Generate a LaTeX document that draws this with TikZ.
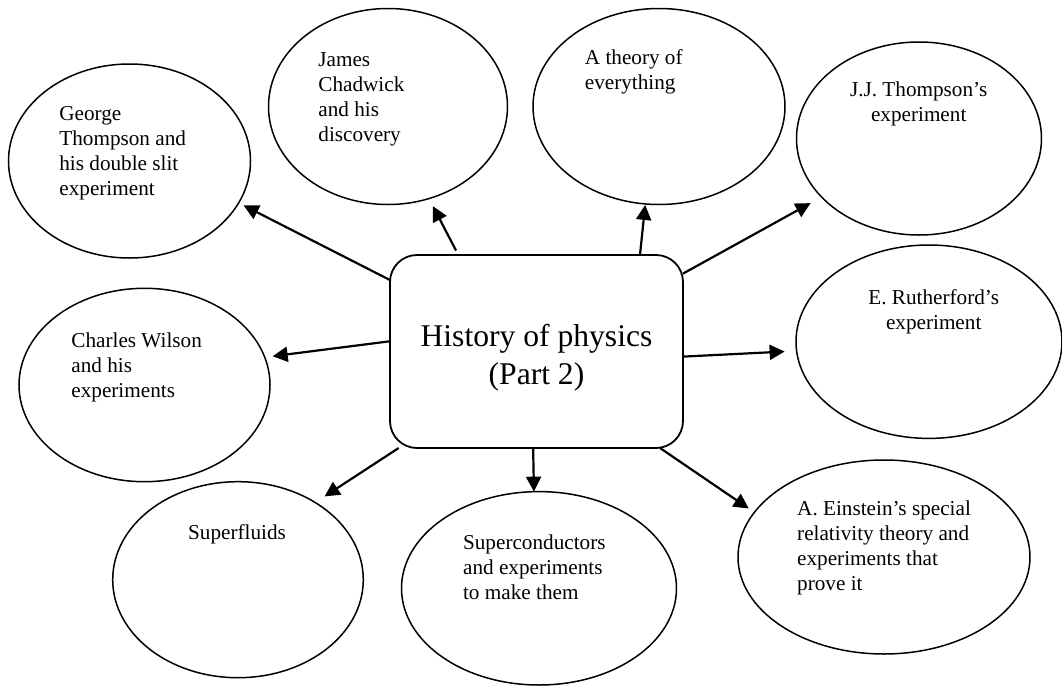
\documentclass[tikz,border=0pt]{standalone}
\usepackage{fontspec}
\setmainfont{Liberation Serif}
\usetikzlibrary{shapes.geometric, arrows.meta}
\tikzset{
  hub/.style={
    rectangle, rounded corners=13.5pt, draw, line width=0.9pt,
    minimum width=146.5pt, minimum height=96.5pt, inner sep=0pt, outer sep=0pt
  },
  hubtext/.style={
    font=\fontsize{15.8}{18.8}\selectfont, align=center, inner sep=0pt
  },
  bubble/.style 2 args={
    ellipse, draw, line width=0.75pt,
    minimum width=#1pt, minimum height=#2pt, inner sep=0pt, outer sep=0pt
  },
  note/.style={
    font=\fontsize{10.6}{12.5}\selectfont, align=left, inner sep=0pt, anchor=north west
  },
  notec/.style={
    font=\fontsize{10.6}{12.5}\selectfont, align=center, inner sep=0pt, anchor=north
  },
  link/.style={
    -{Triangle[length=7.5pt,width=7.5pt]}, line width=1.1pt
  }
}
\begin{document}
\begin{tikzpicture}[x=0.5pt, y=-0.5pt]
  \useasboundingbox (0,0) rectangle (1062,686);

  % Centre
  \node[hub] (hub) at (536.5,351.5) {};
  \node[hubtext] (hubtxt) at (536.5,357.5) {History of physics\\(Part 2)};

  % Topics
  \node[bubble={121}{97}] (george) at (129.5,161) {};
  \node[bubble={119.5}{98}] (chadwick) at (388,106.5) {};
  \node[bubble={126}{98}] (everything) at (659,106.5) {};
  \node[bubble={122.5}{96.5}] (jjt) at (919,138.5) {};
  \node[bubble={133}{96.7}] (rutherford) at (929,341.7) {};
  \node[bubble={125.5}{96.7}] (wilson) at (144.5,385) {};
  \node[bubble={125.3}{98}] (superfluids) at (238,579.7) {};
  \node[bubble={137.5}{96.7}] (supercond) at (539,588.3) {};
  \node[bubble={146}{97}] (einstein) at (884,557) {};

  % Topic texts
  \node[note] (georgetxt) at (59,106) {George\\Thompson and\\his double slit\\experiment};
  \node[note] (chadwicktxt) at (318,52.5) {James\\Chadwick\\and his\\discovery};
  \node[note] (everythingtxt) at (584.5,49) {A theory of\\everything};
  \node[notec] (jjttxt) at (918.7,81) {J.J. Thompson's\\experiment};
  \node[notec] (rutherfordtxt) at (933.7,289) {E. Rutherford's\\experiment};
  \node[note] (wilsontxt) at (71,332.5) {Charles Wilson\\and his\\experiments};
  \node[notec] (superfluidstxt) at (237,524) {Superfluids};
  \node[note] (supercondtxt) at (462.7,534.5) {Superconductors\\and experiments\\to make them};
  \node[note] (einsteintxt) at (796.8,500.5) {A. Einstein's special\\relativity theory and\\experiments that\\prove it};

  % Arrows
  \draw[link, shorten >=2.8pt] (hub.154) -- (george.-21);
  \draw[link, shorten <=2.5pt, shorten >=4.3pt] (hub.129) -- (chadwick.-66.4);
  \draw[link, shorten >=0.5pt] (hub.43) -- (everything.-98.4);
  \draw[link, shorten >=6.3pt] (hub.28) -- (jjt.211.8);
  \draw[link, shorten >=6pt] (hub.-2) -- (rutherford.184.9);
  \draw[link, shorten >=4pt] (hub.176) -- (wilson.13.2);
  \draw[link, shorten >=5.6pt] (hub.215) -- (superfluids.45.8);
  \draw[link] (hub.-92.1) -- (supercond.93.55);
  \draw[link, shorten >=3.4pt] (hub.-38) -- (einstein.161.2);

\end{tikzpicture}
\end{document}
